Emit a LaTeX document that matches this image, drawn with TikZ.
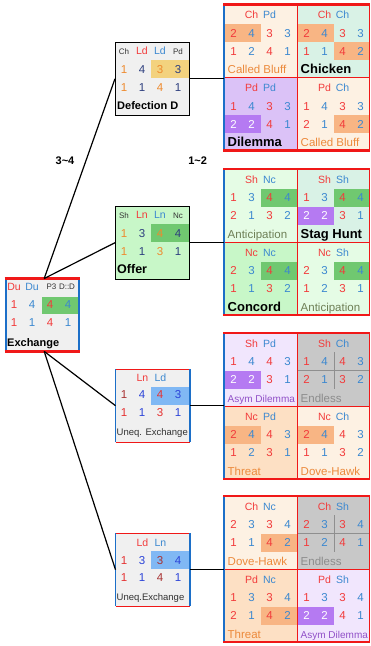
\documentclass[tikz,border=0pt]{standalone}
\usepackage{fontspec}
\setmainfont{Liberation Sans}
\definecolor{gr}{HTML}{F23B3B}
\definecolor{gb}{HTML}{3B88D0}
\definecolor{wh}{HTML}{FFFFFF}
\definecolor{og}{HTML}{EE8A2E}
\definecolor{nv}{HTML}{2D3E7E}
\definecolor{dr}{HTML}{A83232}
\definecolor{ur}{HTML}{E53232}
\definecolor{ub}{HTML}{2C44D8}
\definecolor{labor}{HTML}{EC8A3C}
\definecolor{labol}{HTML}{6E7F56}
\definecolor{labpu}{HTML}{9150C8}
\definecolor{labgy}{HTML}{8C8C8C}
\definecolor{dgray}{HTML}{333333}
\definecolor{peach}{HTML}{FDF1E3}
\definecolor{mint}{HTML}{D9F2E6}
\definecolor{lav}{HTML}{DBC2F7}
\definecolor{llav}{HTML}{F1E6FD}
\definecolor{vlg}{HTML}{E5FCE5}
\definecolor{lg}{HTML}{C8F7C8}
\definecolor{grayc}{HTML}{C8C8C8}
\definecolor{lor}{HTML}{FDE0C4}
\definecolor{lgray}{HTML}{F0F0F0}
\definecolor{hor}{HTML}{F8B584}
\definecolor{hgr}{HTML}{70C870}
\definecolor{hpu}{HTML}{B57AF2}
\definecolor{hye}{HTML}{F3D27E}
\definecolor{hbl}{HTML}{80B8F4}
\definecolor{redB}{HTML}{F01818}
\definecolor{blueB}{HTML}{1C6FC8}
\definecolor{crossc}{HTML}{8F8F8F}

\newcommand\drow[5]{\foreach \cc/\dd [count=\ii] in {#5}{\node[num,text=\cc] (#1\ii) at ({#2+#4+18*(\ii-1)},#3) {\dd};}}
\newcommand\gbg[4]{\node[cellbox,fill=#4] (#1) at (#2,#3) {};}
\newcommand\hl[5]{\fill[#5] ({#1+36.5*(#4-1)},{#2+19.5+18*(#3-1)}) rectangle ++(36.5,18);}
\newcommand\gtext[9]{%
  \node[hdr,text=gr] (#1h1) at (#2+27.5,#3+14.3) {#4};
  \node[hdr,text=gb] (#1h2) at (#2+45.5,#3+14.3) {#5};
  \drow{#1a}{#2}{#3+32.6}{9.5}{#6}
  \drow{#1b}{#2}{#3+50.6}{9.5}{#7}
  \node[#8] (#1l) at (#2+3.5,#3+69.3) {#9};}
\newcommand\crossl[2]{\draw[crossc,line width=0.9pt] (#1+37,#2+19) -- (#1+37,#2+55.5) (#1,#2+37.5) -- (#1+73,#2+37.5);}
\newcommand\gframe[1]{%
  \draw[redB,line width=0.9pt] (297,#1) -- (297,#1+146) (224,#1+73) -- (370,#1+73) (369.5,#1) -- (369.5,#1+146);
  \draw[blueB,line width=2pt] (224,#1-1) -- (224,#1+147);
  \draw[redB,line width=2.2pt] (223,#1) -- (370,#1) (223,#1+146) -- (370,#1+146);}

\begin{document}
\begin{tikzpicture}[x=1pt,y=-1pt,
  num/.style={inner sep=0pt,anchor=base,font=\fontsize{11.5}{12}\selectfont},
  hdr/.style={inner sep=0pt,anchor=base,font=\fontsize{10.5}{12}\selectfont},
  shdr/.style={inner sep=0pt,anchor=base,font=\fontsize{8}{10}\selectfont,text=dgray},
  lab/.style={inner sep=0pt,anchor=base west,font=\fontsize{11.5}{12}\selectfont},
  alab/.style={inner sep=0pt,anchor=base west,font=\fontsize{10}{12}\selectfont,text=labpu},
  blab/.style={inner sep=0pt,anchor=base west,font=\fontsize{13}{14}\selectfont\bfseries},
  slab/.style={inner sep=0pt,anchor=base west,font=\fontsize{11}{12}\selectfont\bfseries},
  ulab/.style={inner sep=0pt,anchor=base west,font=\fontsize{9.5}{11}\selectfont,text=dgray},
  rlab/.style={inner sep=0pt,font=\fontsize{11}{12}\selectfont\bfseries},
  cellbox/.style={draw=none,inner sep=0pt,minimum width=73pt,minimum height=73pt,anchor=north west},
  sbox/.style={draw=none,inner sep=0pt,minimum width=74pt,minimum height=73pt,anchor=north west},
  conn/.style={draw=black,line width=1.2pt}]
\useasboundingbox (0,0) rectangle (370,646);
\fill[white] (0,0) rectangle (370,646);

% ---------- Grid 1 ----------
\gbg{gaa}{224}{4.5}{peach}\hl{224}{4.5}{1}{1}{hor}
\gtext{gaa}{224}{4.5}{Ch}{Pd}{gr/2,gb/4,gr/3,gb/3}{gr/1,gb/2,gr/4,gb/1}{lab,text=labor}{Called Bluff}
\gbg{gab}{297}{4.5}{mint}\hl{297}{4.5}{1}{1}{hor}\hl{297}{4.5}{2}{2}{hor}
\gtext{gab}{297}{4.5}{Ch}{Ch}{gr/2,gb/4,gr/3,gb/3}{gr/1,gb/1,gr/4,gb/2}{blab}{Chicken}
\gbg{gac}{224}{77.5}{lav}\hl{224}{77.5}{2}{1}{hpu}
\gtext{gac}{224}{77.5}{Pd}{Pd}{gr/1,gb/4,gr/3,gb/3}{wh/2,wh/2,gr/4,gb/1}{blab}{Dilemma}
\gbg{gad}{297}{77.5}{peach}\hl{297}{77.5}{2}{2}{hor}
\gtext{gad}{297}{77.5}{Pd}{Ch}{gr/1,gb/4,gr/3,gb/3}{gr/2,gb/1,gr/4,gb/2}{lab,text=labor}{Called Bluff}
\gframe{4.5}

% ---------- Grid 2 ----------
\gbg{gba}{224}{169}{vlg}\hl{224}{169}{1}{2}{hgr}
\gtext{gba}{224}{169}{Sh}{Nc}{gr/1,gb/3,gr/4,gb/4}{gr/2,gb/1,gr/3,gb/2}{lab,text=labol}{Anticipation}
\gbg{gbb}{297}{169}{mint}\hl{297}{169}{1}{2}{hgr}\hl{297}{169}{2}{1}{hpu}
\gtext{gbb}{297}{169}{Sh}{Sh}{gr/1,gb/3,gr/4,gb/4}{wh/2,wh/2,gr/3,gb/1}{blab}{Stag Hunt}
\gbg{gbc}{224}{242}{lg}\hl{224}{242}{1}{2}{hgr}
\gtext{gbc}{224}{242}{Nc}{Nc}{gr/2,gb/3,gr/4,gb/4}{gr/1,gb/1,gr/3,gb/2}{blab}{Concord}
\gbg{gbd}{297}{242}{vlg}\hl{297}{242}{1}{2}{hgr}
\gtext{gbd}{297}{242}{Nc}{Sh}{gr/2,gb/3,gr/4,gb/4}{gr/1,gb/2,gr/3,gb/1}{lab,text=labol}{Anticipation}
\gframe{169}

% ---------- Grid 3 ----------
\gbg{gca}{224}{333}{llav}\hl{224}{333}{2}{1}{hpu}
\gtext{gca}{224}{333}{Sh}{Pd}{gr/1,gb/4,gr/4,gb/3}{wh/2,wh/2,gr/3,gb/1}{alab}{Asym Dilemma}
\gbg{gcb}{297}{333}{grayc}\crossl{297}{333}
\gtext{gcb}{297}{333}{Sh}{Ch}{gr/1,gb/4,gr/4,gb/3}{gr/2,gb/1,gr/3,gb/2}{lab,text=labgy}{Endless}
\gbg{gcc}{224}{406}{lor}\hl{224}{406}{1}{1}{hor}
\gtext{gcc}{224}{406}{Nc}{Pd}{gr/2,gb/4,gr/4,gb/3}{gr/1,gb/2,gr/3,gb/1}{lab,text=labor}{Threat}
\gbg{gcd}{297}{406}{peach}\hl{297}{406}{1}{1}{hor}
\gtext{gcd}{297}{406}{Nc}{Ch}{gr/2,gb/4,gr/4,gb/3}{gr/1,gb/1,gr/3,gb/2}{lab,text=labor}{Dove-Hawk}
\gframe{333}

% ---------- Grid 4 ----------
\gbg{gda}{224}{496}{peach}\hl{224}{496}{2}{2}{hor}
\gtext{gda}{224}{496}{Ch}{Nc}{gr/2,gb/3,gr/3,gb/4}{gr/1,gb/1,gr/4,gb/2}{lab,text=labor}{Dove-Hawk}
\gbg{gdb}{297}{496}{grayc}\crossl{297}{496}
\gtext{gdb}{297}{496}{Ch}{Sh}{gr/2,gb/3,gr/3,gb/4}{gr/1,gb/2,gr/4,gb/1}{lab,text=labgy}{Endless}
\gbg{gdc}{224}{569}{lor}\hl{224}{569}{2}{2}{hor}
\gtext{gdc}{224}{569}{Pd}{Nc}{gr/1,gb/3,gr/3,gb/4}{gr/2,gb/1,gr/4,gb/2}{lab,text=labor}{Threat}
\gbg{gdd}{297}{569}{llav}\hl{297}{569}{2}{1}{hpu}
\gtext{gdd}{297}{569}{Pd}{Sh}{gr/1,gb/3,gr/3,gb/4}{wh/2,wh/2,gr/4,gb/1}{alab}{Asym Dilemma}
\gframe{496}

% ---------- Defection D ----------
\node[sbox,fill=lgray] (def) at (115,42) {};
\fill[hye] (151,59.5) rectangle (189,77.5);
\draw[black,line width=0.8pt] (def.north west) rectangle (def.south east);
\node[shdr] (defh1) at (124,54) {Ch};
\node[hdr,text=gr] (defh2) at (142,54.5) {Ld};
\node[hdr,text=gb] (defh3) at (160,54.5) {Ld};
\node[shdr] (defh4) at (178,54) {Pd};
\drow{defa}{115}{73}{9}{og/1,nv/4,og/3,nv/3}
\drow{defb}{115}{91}{9}{og/1,nv/1,og/4,nv/1}
\node[slab] (defl) at (117,109.3) {Defection D};

% ---------- Offer ----------
\node[sbox,fill=lg] (off) at (115,206) {};
\fill[hgr] (151,223.5) rectangle (189,241.5);
\draw[black,line width=0.8pt] (off.north west) rectangle (off.south east);
\node[shdr] (offh1) at (124,218) {Sh};
\node[hdr,text=gr] (offh2) at (142,218.5) {Ln};
\node[hdr,text=gb] (offh3) at (160,218.5) {Ln};
\node[shdr] (offh4) at (178,218) {Nc};
\drow{offa}{115}{237}{9}{og/1,nv/3,og/4,nv/4}
\drow{offb}{115}{255}{9}{og/1,nv/1,og/3,nv/1}
\node[slab,font=\fontsize{12.5}{13}\selectfont\bfseries] (offl) at (117,273.6) {Offer};

% ---------- Uneq. Exchange 1 ----------
\node[sbox,fill=lgray] (ua) at (115.5,369) {};
\fill[hbl] (151,386.5) rectangle (189.5,404.5);
\draw[redB,line width=1pt] (ua.north west) -- (ua.north east) (ua.south west) -- (ua.south east);
\draw[blueB,line width=1.2pt] (ua.north west) -- (ua.south west) (ua.north east) -- (ua.south east);
\node[hdr,text=gr] (uah1) at (142.5,381.5) {Ln};
\node[hdr,text=gb] (uah2) at (160.5,381.5) {Ld};
\drow{uaa}{115.5}{398.5}{8.5}{dr/1,ub/4,ur/4,ub/3}
\drow{uab}{115.5}{416}{8.5}{ur/1,ub/1,ur/3,ub/1}
\node[ulab] (ual) at (116.5,435.5) {Uneq. Exchange};

% ---------- Uneq. Exchange 2 ----------
\node[sbox,fill=lgray] (ub) at (115.5,533) {};
\fill[hbl] (151,550.5) rectangle (189.5,568.5);
\draw[redB,line width=1pt] (ub.north west) -- (ub.north east) (ub.south west) -- (ub.south east);
\draw[blueB,line width=1.2pt] (ub.north west) -- (ub.south west) (ub.north east) -- (ub.south east);
\node[hdr,text=gr] (ubh1) at (142.5,546.5) {Ld};
\node[hdr,text=gb] (ubh2) at (160.5,546.5) {Ln};
\drow{uba}{115.5}{564}{8.5}{ur/1,ub/3,dr/3,ub/4}
\drow{ubb}{115.5}{581.5}{8.5}{ur/1,ub/1,dr/4,ub/1}
\node[ulab] (ubl) at (116.5,600.5) {Uneq.Exchange};

% ---------- Exchange ----------
\node[inner sep=0pt,minimum width=73pt,minimum height=72.5pt,anchor=north west,fill=lgray] (ex) at (5.5,278.5) {};
\fill[hgr] (42,296.5) rectangle (78.5,313.5);
\draw[blueB,line width=2pt] (ex.north west) -- (ex.south west) (ex.north east) -- (ex.south east);
\draw[redB,line width=2.2pt] ([xshift=-1pt]ex.north west) -- ([xshift=1pt]ex.north east) ([xshift=-1pt]ex.south west) -- ([xshift=1pt]ex.south east);
\node[hdr,text=gr] (exh1) at (14,290) {Du};
\node[hdr,text=gb] (exh2) at (32,290) {Du};
\node[shdr] (exh3) at (51.5,289.5) {P3};
\node[shdr] (exh4) at (67,289.5) {D::D};
\drow{exa}{5.5}{308.2}{8.5}{gr/1,gb/4,gr/4,gb/4}
\drow{exb}{5.5}{326.8}{8.5}{gr/1,gb/1,gr/4,gb/1}
\node[slab] (exl) at (7,346.3) {Exchange};

% ---------- connectors ----------
\draw[conn] ([xshift=2pt]ex.north) -- (def.west);
\draw[conn] ([xshift=2pt]ex.north) -- (off.west);
\draw[conn] ([xshift=2pt]ex.south) -- (ua.west);
\draw[conn] ([xshift=2pt]ex.south) -- (ub.west);
\draw[conn] (def.east) -- (def.east -| gac.west);
\draw[conn] (off.east) -- (off.east -| gbc.west);
\draw[conn] (ua.east) -- (ua.east -| gcc.west);
\draw[conn] (ub.east) -- (ub.east -| gdc.west);

\node[rlab] (r34) at (65,160.7) {3\textasciitilde 4};
\node[rlab] (r12) at (197.7,160.7) {1\textasciitilde 2};
\end{tikzpicture}
\end{document}
